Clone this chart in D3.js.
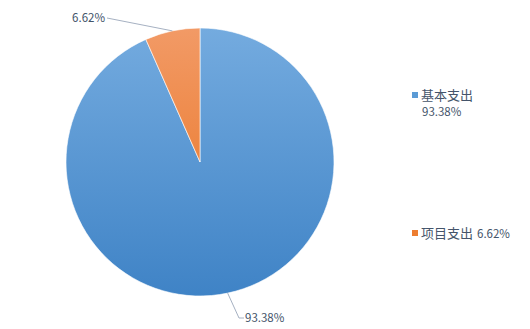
<!DOCTYPE html>
<html>
<head>
<meta charset="utf-8">
<script src="https://cdn.jsdelivr.net/npm/d3@7"></script>
<style>
  body { margin: 0; background: #fff; }
  text { font-family: "Microsoft YaHei", "Noto Sans CJK SC", sans-serif; fill: #44546a; }
</style>
</head>
<body>
<div id="chart"></div>
<script>
var categories = ["基本支出", "项目支出"];
var values = [93.38, 6.62];
var labels = ["93.38%", "6.62%"];

var w = 530, h = 329;
var cx = 200, cy = 162, r = 134;

var svg = d3.select("#chart").append("svg")
    .attr("width", w)
    .attr("height", h);

var defs = svg.append("defs");
var grads = [["g0", "#74abdf", "#3f83c6"], ["g1", "#f29a66", "#e86f1a"]];
grads.forEach(function(g){
    var lg = defs.append("linearGradient")
        .attr("id", g[0])
        .attr("gradientUnits", "userSpaceOnUse")
        .attr("x1", 0).attr("y1", -r)
        .attr("x2", 0).attr("y2", r);
    lg.append("stop").attr("offset", "0%").attr("stop-color", g[1]);
    lg.append("stop").attr("offset", "100%").attr("stop-color", g[2]);
});

var pie = d3.pie().sort(null).value(function(d){ return d; });
var arcs = pie(values);
var arc = d3.arc().innerRadius(0).outerRadius(r);

var g = svg.append("g").attr("transform", "translate(" + cx + "," + cy + ")");

g.selectAll("path")
    .data(arcs)
    .enter()
    .append("path")
    .attr("d", arc)
    .attr("fill", function(d, i){ return "url(#g" + i + ")"; })
    .attr("stroke", "#fff")
    .attr("stroke-width", 0.6);

// leader lines + labels
function edge(d) {
    var a = (d.startAngle + d.endAngle) / 2;
    return [r * Math.sin(a), -r * Math.cos(a)];
}

// blue slice label (bottom)
var p0 = edge(arcs[0]);
g.append("polyline")
    .attr("points", [p0, [39, 156], [44, 156]].map(function(p){ return p.join(","); }).join(" "))
    .attr("fill", "none")
    .attr("stroke", "#a6b1c2")
    .attr("stroke-width", 1);
g.append("text")
    .attr("x", 45).attr("y", 160)
    .attr("font-size", 11.5)
    .text(labels[0]);

// orange slice label (top)
var p1 = edge(arcs[1]);
g.append("polyline")
    .attr("points", [p1, [-93, -144]].map(function(p){ return p.join(","); }).join(" "))
    .attr("fill", "none")
    .attr("stroke", "#a6b1c2")
    .attr("stroke-width", 1);
g.append("text")
    .attr("x", -95).attr("y", -140)
    .attr("text-anchor", "end")
    .attr("font-size", 11.5)
    .text(labels[1]);

// legend
var legendColors = ["#5b9bd5", "#ed7d31"];
var leg0 = svg.append("g");
leg0.append("rect").attr("x", 412).attr("y", 92).attr("width", 6).attr("height", 6).attr("fill", legendColors[0]);
leg0.append("text").attr("x", 421).attr("y", 100).attr("font-size", 13).text(categories[0]);
leg0.append("text").attr("x", 422).attr("y", 116).attr("font-size", 11.5).text(labels[0]);

var leg1 = svg.append("g");
leg1.append("rect").attr("x", 412).attr("y", 230).attr("width", 6).attr("height", 6).attr("fill", legendColors[1]);
leg1.append("text").attr("x", 421).attr("y", 238).attr("font-size", 13)
    .text(categories[1])
    .append("tspan").attr("font-size", 11.5).attr("dx", 4).text(labels[1]);
</script>
</body>
</html>
